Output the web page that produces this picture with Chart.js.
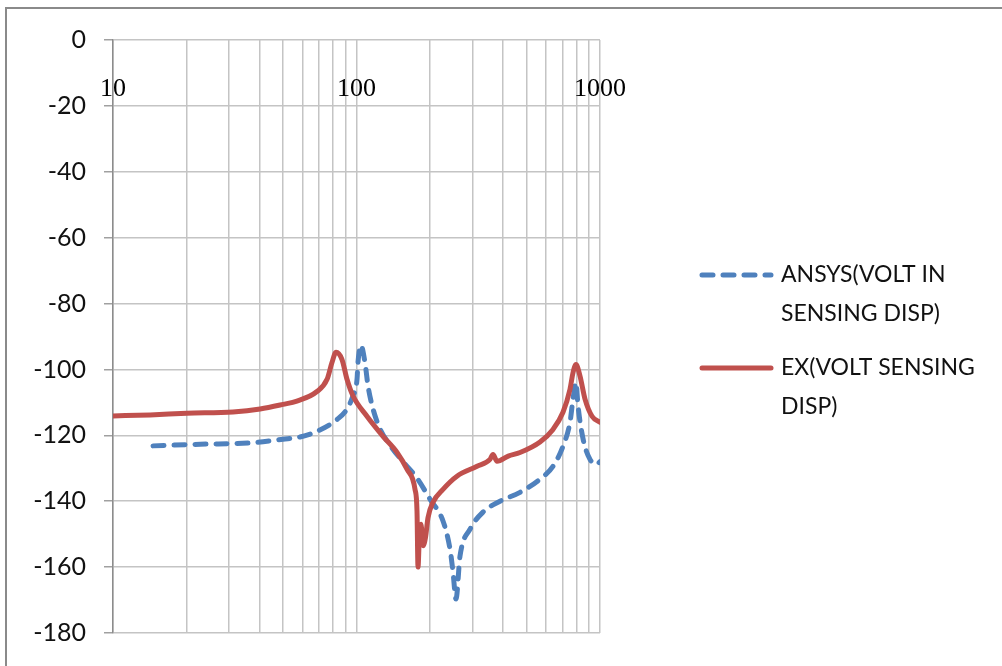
<!DOCTYPE html>
<html>
<head>
<meta charset="utf-8">
<script src="https://cdn.jsdelivr.net/npm/chart.js@4.4.1/dist/chart.umd.min.js"></script>
<style>
  html, body { margin: 0; padding: 0; background: #fff; overflow: hidden; }
  #wrap { position: relative; width: 1002px; height: 666px; }
  #frame { position: absolute; left: 5px; top: 7px; width: 1100px; height: 800px; border: 2px solid #8a8a8a; box-sizing: border-box; }
  canvas { position: absolute; left: 0; top: 0; }
</style>
</head>
<body>
<div id="wrap">
  <div id="frame"></div>
  <canvas id="c" width="1002" height="666"></canvas>
</div>
<script>
// ---- Data ----
const ansysFreq = [14.6, 22.8, 36.5, 49.9, 58.6, 68.8, 83.2, 91.4, 96.7, 100.5, 101.4, 104.3, 108.4, 111.5, 116.9, 124.9, 137.3, 155.2, 177.2, 200.4, 226.6, 242.1, 249.1, 256.2, 266.1, 292.6, 330.7, 388.4, 469.4, 567.1, 641.2, 704.7, 753.1, 774.7, 796.9, 812.2, 851.6, 909.8, 971.9, 1000];
const ansysDb   = [-123.2, -122.7, -122.3, -121.2, -120.5, -118.8, -115.2, -112, -108, -103, -97.9, -92.7, -98, -105, -112, -118, -123, -128, -133, -139.4, -146, -154.5, -161.5, -169.7, -156.7, -148.5, -143.3, -140, -137.3, -133.3, -129.4, -123.3, -116, -109, -104, -111, -121, -127.3, -128.8, -128];

const exFreq = [10, 14.2, 20.1, 31.1, 40.2, 49.9, 56.9, 68.8, 75.7, 79.3, 82.4, 87.2, 91.4, 96.7, 110.4, 128.5, 146.7, 161.2, 173.9, 177.2, 178.9, 181.5, 184, 187.6, 192, 196.6, 206.2, 226.6, 258.6, 312.6, 353.4, 363.6, 377.6, 420, 469.4, 567.1, 641.2, 704.7, 753.1, 774.7, 796.9, 827.8, 867.9, 927.2, 1000];
const exDb   = [-114.1, -113.8, -113.3, -112.9, -112, -110.6, -109.6, -106.7, -103, -97.9, -94.8, -97, -103, -108, -114.2, -120.3, -125.2, -130.3, -136.4, -143, -160, -149, -147, -153.5, -151, -145, -140.3, -136.4, -132.4, -129.4, -127.3, -125.8, -127.9, -126.3, -125.2, -122, -118.2, -113, -106, -101, -98.5, -102, -109, -114.2, -116];

const seriesNames = [['ANSYS(VOLT IN', 'SENSING DISP)'], ['EX(VOLT SENSING', 'DISP)']];
const xTickValues = [10, 20, 30, 40, 50, 60, 70, 80, 90, 100, 200, 300, 400, 500, 600, 700, 800, 900, 1000];
const xTickLabels = ['10', '100', '1000'];
const yMin = -180, yMax = 0, yStep = 20;

// ---- Build ----
const toPts = (xs, ys) => xs.map((x, i) => ({ x: x, y: ys[i] }));

const legendPlugin = {
  id: 'sideLegend',
  afterDraw(chart) {
    const ctx = chart.ctx;
    const entries = [{ y: 275 }, { y: 368 }];
    chart.data.datasets.forEach((ds, i) => {
      const e = entries[i];
      ctx.save();
      ctx.strokeStyle = ds.borderColor;
      ctx.lineWidth = ds.borderWidth;
      ctx.lineCap = 'round';
      ctx.setLineDash(ds.borderDash || []);
      ctx.beginPath();
      ctx.moveTo(702, e.y);
      ctx.lineTo(771, e.y);
      ctx.stroke();
      ctx.setLineDash([]);
      ctx.fillStyle = '#111';
      ctx.font = '23px Lato';
      ctx.textBaseline = 'middle';
      ctx.textAlign = 'left';
      ds.nameLines.forEach((t, k) => ctx.fillText(t, 781, e.y + k * 39));
      ctx.restore();
    });
  }
};

new Chart(document.getElementById('c'), {
  type: 'line',
  data: {
    datasets: [
      {
        label: seriesNames[0].join(' '),
        nameLines: seriesNames[0],
        data: toPts(ansysFreq, ansysDb),
        borderColor: '#4F81BD',
        borderWidth: 5,
        borderDash: [11, 10],
        borderCapStyle: 'round',
        pointRadius: 0,
        cubicInterpolationMode: 'monotone',
        order: 1
      },
      {
        label: seriesNames[1].join(' '),
        nameLines: seriesNames[1],
        data: toPts(exFreq, exDb),
        borderColor: '#C0504D',
        borderWidth: 5,
        borderCapStyle: 'round',
        borderJoinStyle: 'round',
        pointRadius: 0,
        cubicInterpolationMode: 'monotone',
        order: 0
      }
    ]
  },
  options: {
    responsive: false,
    animation: false,
    devicePixelRatio: 1,
    layout: { padding: { left: 0, top: 0, right: 402, bottom: 32 } },
    plugins: { legend: { display: false }, tooltip: { enabled: false } },
    scales: {
      x: {
        type: 'logarithmic',
        position: 'top',
        min: 10,
        max: 1000,
        afterBuildTicks: s => { s.ticks = xTickValues.map(v => ({ value: v })); },
        afterFit: s => { s.height = 40; },
        grid: { color: '#c4c4c4', lineWidth: 1.5, drawTicks: false },
        border: { display: false },
        ticks: {
          autoSkip: false,
          maxRotation: 0,
          mirror: true,
          padding: 34,
          color: '#000',
          font: { family: 'Liberation Serif', size: 26 },
          callback: v => { const s = String(Math.round(v)); return xTickLabels.includes(s) ? s : ''; }
        }
      },
      y: {
        min: yMin,
        max: yMax,
        afterFit: s => { s.width = 113; },
        grid: { color: '#c4c4c4', lineWidth: 1.5, tickLength: 9, tickColor: '#a0a0a0' },
        border: { display: true, color: '#8c8c8c', width: 1.5 },
        ticks: {
          stepSize: yStep,
          padding: 18,
          color: '#111',
          font: { family: 'Lato', size: 25 }
        }
      }
    }
  },
  plugins: [legendPlugin]
});
</script>
</body>
</html>
